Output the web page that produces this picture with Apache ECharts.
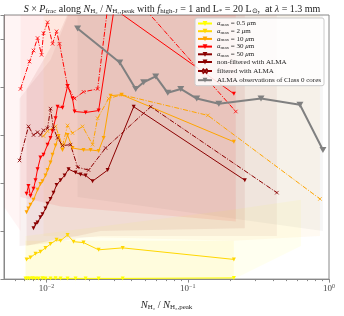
<!DOCTYPE html>
<html><head><meta charset="utf-8">
<script src="https://cdn.jsdelivr.net/npm/echarts@6/dist/echarts.min.js"></script>
<style>html,body{margin:0;padding:0;background:#fff}#c{width:344px;height:316px}</style>
</head><body><div id="c"></div>
<script>
// ---- data: [N/Npeak, S x Pfrac (arbitrary units)] ----
const a05 = [[0.0071,0.015],[0.00733,0.015],[0.00757,0.015],[0.00796,0.02],[0.00836,0.015],[0.00878,0.015],[0.00937,0.02],[0.00984,0.015],[0.01067,0.015],[0.01159,0.02],[0.01257,0.015],[0.01409,0.015],[0.01606,0.015],[0.01892,0.015],[0.02338,0.015],[0.0346,0.015],[0.212,0.025]];
const a2 = [[0.00722,0.41],[0.0077,0.45],[0.00836,0.53],[0.00906,0.57],[0.00984,0.65],[0.01067,0.73],[0.01178,0.82],[0.01257,0.80],[0.01409,0.92],[0.01552,0.78],[0.01828,0.76],[0.02338,0.61],[0.0346,0.65],[0.212,0.41]];
const a10 = [[0.00722,1.39],[0.00745,1.47],[0.0077,1.55],[0.00809,1.65],[0.00864,1.86],[0.00906,1.98],[0.00937,2.04],[0.00984,2.16],[0.01017,2.27],[0.01067,2.43],[0.01103,2.59],[0.01159,2.78],[0.01216,2.98],[0.01298,2.69],[0.01409,3.00],[0.01528,2.73],[0.01828,2.69],[0.02051,2.69],[0.02338,2.67],[0.02537,2.94],[0.02843,3.82],[0.034,3.84],[0.212,2.86]];
const a10f = [[0.00952,2.98],[0.01017,3.08],[0.01159,3.18],[0.01298,2.78],[0.01409,3.20],[0.01528,3.04],[0.01799,3.18],[0.02119,2.80],[0.023,3.35],[0.02752,3.76],[0.034,3.84],[0.1387,3.41],[0.863,1.67]];
const a30 = [[0.00722,1.78],[0.00745,1.94],[0.0077,1.73],[0.00809,1.88],[0.00836,2.06],[0.00864,2.29],[0.00906,2.53],[0.00952,2.59],[0.01017,2.80],[0.01067,2.94],[0.01103,3.08],[0.01159,3.35],[0.01197,3.59],[0.01298,3.57],[0.01409,4.02],[0.01528,3.76],[0.0158,3.49],[0.01892,3.47],[0.02338,3.51],[0.0301,5.63],[0.212,3.86]];
const a30f = [[0.00654,3.96],[0.00757,4.53],[0.00809,4.76],[0.00864,5.02],[0.00922,4.67],[0.00952,5.12],[0.01017,5.35],[0.01103,4.90],[0.01178,5.16],[0.01236,4.90],[0.01409,4.02],[0.0158,3.76],[0.01828,3.90],[0.023,3.96],[0.0291,6.4],[0.2188,3.49]];
const a50 = [[0.00809,1.06],[0.00836,1.14],[0.00864,1.18],[0.00906,1.29],[0.00937,1.35],[0.00984,1.47],[0.01017,1.57],[0.01067,1.67],[0.01121,1.80],[0.01178,1.96],[0.01257,2.06],[0.01343,2.16],[0.01432,2.29],[0.01606,2.22],[0.01742,2.18],[0.01892,2.16],[0.02119,2.04],[0.02708,2.27],[0.0414,3.59],[0.2535,2.06]];
const a50f = [[0.00644,2.47],[0.00745,3.18],[0.00809,3.00],[0.00864,3.06],[0.00906,3.00],[0.00952,3.10],[0.01017,3.14],[0.01067,3.55],[0.01121,3.14],[0.01197,2.94],[0.01298,2.78],[0.01479,2.80],[0.0166,2.33],[0.01986,2.27],[0.0262,2.73],[0.0547,3.59],[0.4276,1.80]];
const alma = [[0.0166,5.22],[0.033,4.51],[0.0428,3.96],[0.0487,4.10],[0.0593,4.22],[0.0722,3.88],[0.0892,3.96],[0.1158,3.76],[0.166,3.65],[0.33,3.76],[0.6226,3.63],[0.906,2.69]];

// uncertainty envelopes: [x, low, high]
const bandFaint = [[0.005,1.5,6],[0.00654,1.0,6]];
const bandRed = [[0.00654,1.71,6],[0.01257,1.51,6],[0.2188,1.20,6]];
const bandBrown = [[0.00722,0.69,3.96],[0.01257,0.85,5.18],[0.0166,0.90,6],[0.02415,1.00,6],[0.2535,1.06,6]];
const bandOrange = [[0.00952,0.90,6],[0.212,0.80,6],[0.863,0.90,6]];
const bandBrownF = [[0.00644,0.69,3.76],[0.01067,0.75,4.57],[0.0166,0.85,6],[0.02415,0.90,6],[0.4276,0.90,6]];
const bandAlma = [[0.0166,1.71,6],[0.906,1.00,6]];
const band2 = [[0.0071,0,0.80],[0.212,0,0.80]];
const band05f = [[0.0071,0,0.90],[0.212,0,1.45],[0.633,0.69,1.65]];

const xMajor = [0.01, 0.1, 1];
const xMinor = [0.006,0.007,0.008,0.009,0.02,0.03,0.04,0.05,0.06,0.07,0.08,0.09,0.2,0.3,0.4,0.5,0.6,0.7,0.8,0.9];

const C05='#ffff00', C2='#ffd700', C10='#ffa500', C30='#ff0000', C50='#a52a2a', CDR='#8b0000', CG='#808080';
const TRI='path://M0,0L10,0L5,8Z';
const XM='path://M0,0L10,10M10,0L0,10';
const FONT='Liberation Serif';

function band(data, color, op){
  return {type:'custom', coordinateSystem:'cartesian2d', silent:true, clip:true, z:1,
    data:[[data[0][0], data[0][1]]],
    renderItem:function(params, api){
      const pts=[];
      for(let i=0;i<data.length;i++) pts.push(api.coord([data[i][0], data[i][2]]));
      for(let i=data.length-1;i>=0;i--) pts.push(api.coord([data[i][0], data[i][1]]));
      return {type:'polygon', shape:{points:pts}, style:{fill:color, opacity:op}};
    }};
}
function solid(name, data, color){
  return {type:'line', name:name, data:data, z:3, symbol:TRI, symbolSize:[4,4], showSymbol:true,
    lineStyle:{color:color, width:1}, itemStyle:{color:color}, animation:false};
}
function dashdot(name, data, color){
  return {type:'line', name:name, data:data, z:3, symbol:XM, symbolSize:3.5,
    lineStyle:{color:color, width:1, type:[5,1.5,1,1.5]}, itemStyle:{color:'none', borderColor:color, borderWidth:0.8}, animation:false};
}

const labels = {
  a05:'{i|a}{s|max} = 0.5 {i|μ}m', a2:'{i|a}{s|max} = 2 {i|μ}m', a10:'{i|a}{s|max} = 10 {i|μ}m',
  a30:'{i|a}{s|max} = 30 {i|μ}m', a50:'{i|a}{s|max} = 50 {i|μ}m',
  nf:'non-filtered with ALMA', f:'filtered with ALMA', alma:'ALMA observations of Class 0 cores'
};

const chart = echarts.init(document.getElementById('c'), null, {renderer:'canvas'});
chart.setOption({
  animation:false,
  backgroundColor:'#ffffff',
  title:{
    text:'{i|S} × {i|P}{s|frac} along {i|N}{s|H₂} / {i|N}{s|H₂,peak} with {i|f}{s|high-J} = 1 and L{s|*} = 20 L{s|⊙},  at {i|λ} = 1.3 mm',
    left:'center', top:-2,
    textStyle:{fontFamily:FONT, fontSize:10, fontWeight:'normal', color:'#222', lineHeight:12,
      rich:{i:{fontFamily:FONT, fontStyle:'italic', fontSize:10, lineHeight:12},
            s:{fontFamily:FONT, fontSize:7, lineHeight:6, verticalAlign:'bottom'}}}
  },
  grid:{left:4, right:15, top:15, bottom:32, show:true, borderColor:'#888', borderWidth:1, backgroundColor:'transparent'},
  legend:{
    data:['a05','a2','a10','a30','a50','nf','f','alma'],
    orient:'vertical', left:195, top:18, padding:[2,3,2,2], itemWidth:14, itemHeight:6, itemGap:0.7,
    backgroundColor:'rgba(255,255,255,0.85)', borderColor:'#cccccc', borderWidth:1, borderRadius:2,
    formatter:function(n){return labels[n];},
    textStyle:{fontFamily:FONT, fontSize:7, color:'#222', lineHeight:7,
      rich:{i:{fontFamily:FONT, fontStyle:'italic', fontSize:7, lineHeight:7},
            s:{fontFamily:FONT, fontSize:5, lineHeight:5, verticalAlign:'bottom'}}},
    selectedMode:false
  },
  xAxis:[{
    type:'log', logBase:10, min:0.005, max:1, position:'bottom',
    name:'{i|N}{s|H₂} / {i|N}{s|H₂,peak}', nameLocation:'middle', nameGap:13,
    nameTextStyle:{fontFamily:FONT, fontSize:10, color:'#222', lineHeight:12,
      rich:{i:{fontFamily:FONT, fontStyle:'italic', fontSize:10.5, lineHeight:12},
            s:{fontFamily:FONT, fontSize:7, lineHeight:6, verticalAlign:'bottom'}}},
    axisLine:{show:true, lineStyle:{color:'#888', width:1}},
    axisTick:{show:true, inside:false, length:3.5, customValues:xMajor, lineStyle:{color:'#888'}},
    axisLabel:{show:true, customValues:xMajor, margin:4, color:'#444', fontFamily:FONT, fontSize:9, lineHeight:11,
      formatter:function(v){const e=Math.round(Math.log10(v)); return '10{s|'+(e<0?'−'+(-e):e)+'}';},
      rich:{s:{fontFamily:FONT, fontSize:6, lineHeight:6, verticalAlign:'top'}}},
    splitLine:{show:false}
  },{
    type:'log', logBase:10, min:0.005, max:1, position:'bottom',
    axisLine:{show:false}, axisLabel:{show:false}, splitLine:{show:false},
    axisTick:{show:true, inside:false, length:2, customValues:xMinor, lineStyle:{color:'#888'}}
  }],
  yAxis:{
    type:'value', min:0, max:5.5, interval:1,
    axisLine:{show:true, lineStyle:{color:'#888'}},
    axisTick:{show:true, inside:false, length:3.5, lineStyle:{color:'#888'}},
    axisLabel:{show:false}, splitLine:{show:false}
  },
  series:[
    band(bandFaint, C30, 0.04),
    band(bandAlma, CG, 0.07),
    band(bandRed, C30, 0.08),
    band(bandBrown, CDR, 0.07),
    band(bandBrownF, CDR, 0.05),
    band(bandOrange, C10, 0.05),
    band(band2, C2, 0.08),
    band(band05f, C05, 0.06),
    solid('a05', a05, C05),
    solid('a2', a2, C2),
    solid('a10', a10, C10),
    dashdot('a10 filtered', a10f, C10),
    solid('a30', a30, C30),
    dashdot('a30 filtered', a30f, C30),
    solid('a50', a50, CDR),
    dashdot('a50 filtered', a50f, CDR),
    {type:'line', name:'a50', data:[], symbol:TRI, symbolSize:4, lineStyle:{color:C50,width:1.2}, itemStyle:{color:C50}},
    {type:'line', name:'nf', data:[], symbol:TRI, symbolSize:4, lineStyle:{color:CDR,width:1.2}, itemStyle:{color:CDR}},
    {type:'line', name:'f', data:[], symbol:XM, symbolSize:3.5, lineStyle:{color:CDR,width:1,type:[5,1.5,1,1.5]}, itemStyle:{color:'none',borderColor:CDR,borderWidth:0.8}},
    {type:'line', name:'alma', data:alma, z:4, symbol:TRI, symbolSize:[7,6], lineStyle:{color:CG, width:2}, itemStyle:{color:CG}}
  ]
});
</script></body></html>
